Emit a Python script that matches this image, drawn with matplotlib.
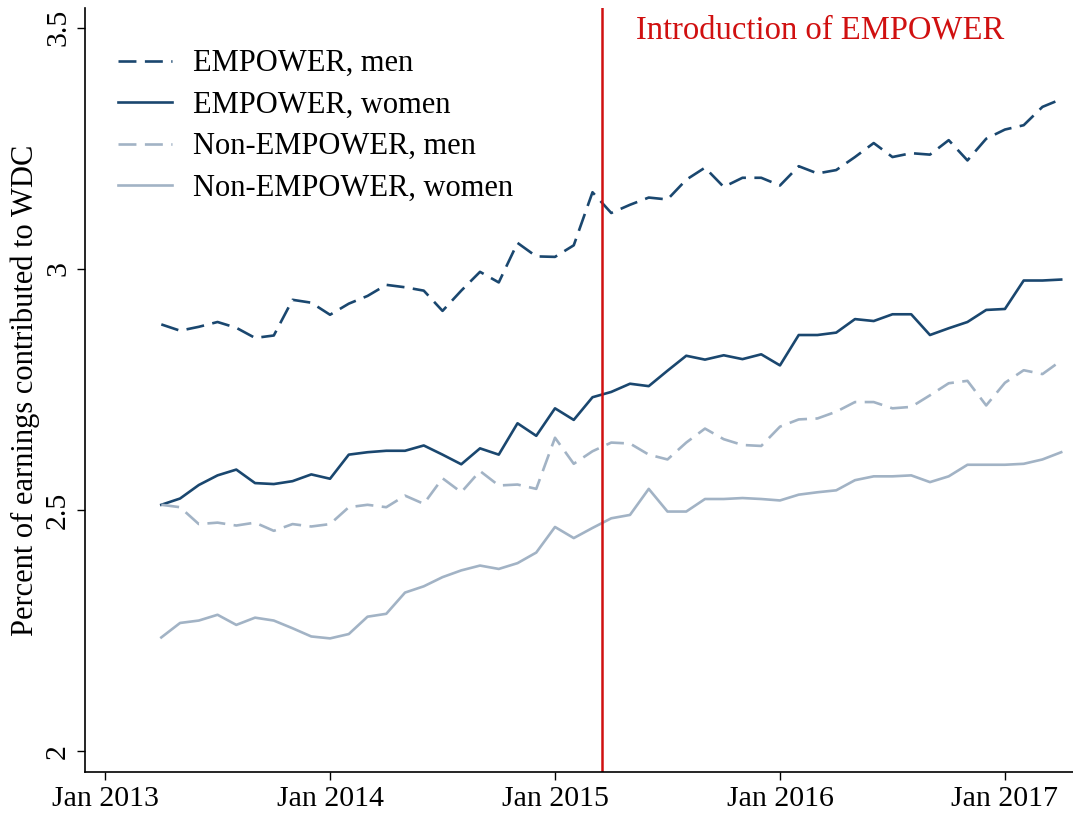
import matplotlib
matplotlib.use("Agg")
import matplotlib.pyplot as plt
import numpy as np

# months counted from Jan 2013 (0 = Jan 2013); data run Apr 2013 .. Apr 2017
months = np.arange(3, 52)
intro_month = 26.5

emp_men = [2.885, 2.872, 2.880, 2.890, 2.878, 2.857, 2.862, 2.936, 2.930, 2.905,
           2.928, 2.944, 2.967, 2.962, 2.955, 2.913, 2.955, 2.994, 2.972, 3.054,
           3.026, 3.025, 3.049, 3.159, 3.116, 3.133, 3.148, 3.144, 3.185, 3.210,
           3.170, 3.189, 3.189, 3.173, 3.213, 3.198, 3.205, 3.232, 3.261, 3.232,
           3.240, 3.237, 3.267, 3.225, 3.270, 3.289, 3.298, 3.336, 3.352]
emp_women = [2.511, 2.524, 2.552, 2.572, 2.584, 2.556, 2.554, 2.560, 2.574, 2.565,
             2.615, 2.620, 2.623, 2.623, 2.634, 2.615, 2.595, 2.628, 2.615, 2.680,
             2.654, 2.711, 2.687, 2.734, 2.745, 2.762, 2.757, 2.789, 2.820, 2.812,
             2.821, 2.813, 2.823, 2.800, 2.863, 2.863, 2.868, 2.896, 2.892, 2.906,
             2.906, 2.863, 2.877, 2.890, 2.915, 2.917, 2.976, 2.976, 2.978]
non_men = [2.511, 2.506, 2.471, 2.474, 2.468, 2.474, 2.457, 2.471, 2.466, 2.471,
           2.506, 2.511, 2.506, 2.530, 2.513, 2.566, 2.537, 2.581, 2.551, 2.553,
           2.544, 2.650, 2.596, 2.622, 2.640, 2.638, 2.615, 2.605, 2.640, 2.669,
           2.647, 2.635, 2.633, 2.673, 2.688, 2.690, 2.704, 2.724, 2.724, 2.711,
           2.714, 2.738, 2.763, 2.768, 2.717, 2.764, 2.790, 2.782, 2.810]
non_women = [2.236, 2.266, 2.271, 2.283, 2.262, 2.277, 2.271, 2.255, 2.238, 2.234,
             2.243, 2.279, 2.285, 2.329, 2.342, 2.361, 2.375, 2.385, 2.378, 2.390,
             2.412, 2.465, 2.442, 2.463, 2.483, 2.490, 2.544, 2.497, 2.497, 2.523,
             2.523, 2.525, 2.523, 2.520, 2.532, 2.537, 2.541, 2.562, 2.570, 2.570,
             2.572, 2.558, 2.570, 2.594, 2.594, 2.594, 2.596, 2.605, 2.620]

xtick_pos = [0, 12, 24, 36, 48]
xtick_labels = ["Jan 2013", "Jan 2014", "Jan 2015", "Jan 2016", "Jan 2017"]
ytick_pos = [2, 2.5, 3, 3.5]
ytick_labels = ["2", "2.5", "3", "3.5"]

dark = "#1a476f"
light = "#a2b3c5"
red = "#d01010"

plt.rcParams["font.family"] = ["Liberation Serif", "DejaVu Serif"]

fig = plt.figure(figsize=(10.73, 8.16), dpi=100)
ax = fig.add_axes([85 / 1073, 44 / 816, 988 / 1073, 764 / 816])

dash = (6.8, 3.2)
lw = 1.9
ax.plot(months, emp_men, color=dark, lw=lw, dashes=dash, label="EMPOWER, men")
ax.plot(months, emp_women, color=dark, lw=lw, label="EMPOWER, women")
ax.plot(months, non_men, color=light, lw=lw, dashes=dash, label="Non-EMPOWER, men")
ax.plot(months, non_women, color=light, lw=lw, label="Non-EMPOWER, women")

ax.axvline(intro_month, color=red, lw=1.8)
ax.text(intro_month + 1.8, 3.495, "Introduction of EMPOWER", color=red,
        fontsize=23.5, va="center", ha="left")

ax.set_xlim(-1.07, 51.63)
ax.set_ylim(1.957, 3.541)
ax.set_xticks(xtick_pos)
ax.set_xticklabels(xtick_labels, fontsize=21.5)
ax.set_yticks(ytick_pos)
ax.set_yticklabels(ytick_labels, fontsize=21.5, rotation=90, va="center")
ax.tick_params(length=6, width=1, pad=4)
ax.set_ylabel("Percent of earnings contributed to WDC", fontsize=22)
ax.yaxis.set_label_coords(-0.046, 0.5)

for s in ["top", "right"]:
    ax.spines[s].set_visible(False)
for s in ["left", "bottom"]:
    ax.spines[s].set_linewidth(1.2)

leg = ax.legend(loc="upper left", bbox_to_anchor=(0.021, 0.962), frameon=False,
                fontsize=22, handlelength=1.77, handletextpad=0.69, labelspacing=0.41,
                borderaxespad=0)

fig.savefig("out.png", dpi=100)
